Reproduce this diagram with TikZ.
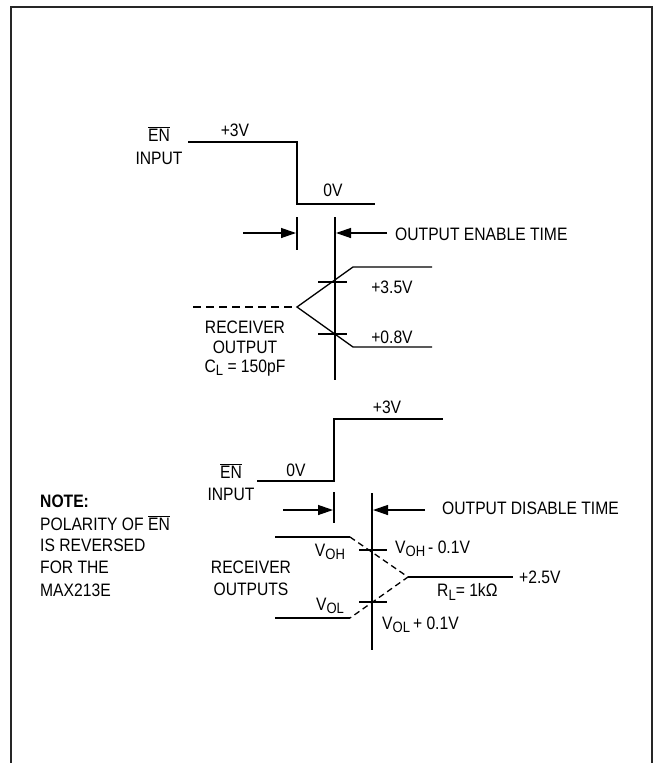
\documentclass[tikz,border=0pt]{standalone}
\usepackage{fontspec}
\setmainfont{Liberation Sans}[FakeStretch=0.87]
\usetikzlibrary{arrows.meta}
\newcommand\enbar{\ensuremath{\overline{\mbox{EN}}}}
\newcommand\lowsub[1]{\raisebox{-0.35ex}{\fontsize{15}{17}\selectfont #1}}
\begin{document}
\begin{tikzpicture}[x=1pt,y=-1pt,
  wave/.style={line width=1.3pt},
  dwave/.style={line width=1.3pt,dash pattern=on 8pt off 5pt},
  lbl/.style={inner sep=0pt,font=\fontsize{18}{21}\selectfont},
  tarrow/.style={line width=1.3pt,-{Triangle[length=15pt,width=10pt]}},
  tickline/.style={line width=1.3pt}]
\useasboundingbox (0,0) rectangle (656,763);
\draw[line width=2pt,black!85] (11,763) -- (11,7) -- (652,7) -- (652,763);

% ---- top: output enable
\node[lbl] (en1) at (159,134) {\enbar};
\node[lbl] (in1) at (159,158) {INPUT};
\node[lbl] (hi1) at (235,130) {+3V};
\node[lbl] (lo1) at (333,190) {0V};
\coordinate (a1) at (188,142);
\coordinate (a2) at (297,142);
\coordinate (a3) at (297,204);
\coordinate (a4) at (375,204);
\draw[wave] (a1) -- (a2) -- (a3) -- (a4);

\coordinate (t1a) at (297,217); \coordinate (t1b) at (297,250);
\coordinate (t2a) at (335,217); \coordinate (t2b) at (335,380);
\draw[tickline] (t1a) -- (t1b);
\draw[tickline] (t2a) -- (t2b);
\coordinate (ar1s) at (243,233); \coordinate (ar1e) at (296,233);
\coordinate (ar2s) at (387,233); \coordinate (ar2e) at (336,233);
\draw[tarrow] (ar1s) -- (ar1e);
\draw[tarrow] (ar2s) -- (ar2e);
\node[lbl,anchor=west] (oet) at (395,234) {OUTPUT ENABLE TIME};

\coordinate (apex1) at (297,307);
\coordinate (u1) at (353,267); \coordinate (u2) at (432,267);
\coordinate (l1) at (353,347); \coordinate (l2) at (432,347);
\coordinate (dstart) at (193,307);
\draw[wave] (u2) -- (u1) -- (apex1) -- (l1) -- (l2);
\draw[dwave] (dstart) -- (apex1);
\draw[tickline] (318,282) -- (347,282);
\draw[tickline] (318,334) -- (347,334);
\node[lbl] (v35) at (392,287) {+3.5V};
\node[lbl] (v08) at (392,337) {+0.8V};
\node[lbl] (ro1) at (245,327) {RECEIVER};
\node[lbl] (ro2) at (245,347) {OUTPUT};
\node[lbl] (ro3) at (245,368) {C\lowsub{L} = 150pF};

% ---- bottom: output disable
\node[lbl] (en2) at (231,471) {\enbar};
\node[lbl] (in2) at (231,494) {INPUT};
\node[lbl] (lo2) at (296,470) {0V};
\node[lbl] (hi2) at (387,407) {+3V};
\coordinate (b1) at (257,481);
\coordinate (b2) at (334,481);
\coordinate (b3) at (334,419);
\coordinate (b4) at (443,419);
\draw[wave] (b1) -- (b2) -- (b3) -- (b4);

\coordinate (t3a) at (334,492); \coordinate (t3b) at (334,523);
\coordinate (t4a) at (372,493); \coordinate (t4b) at (372,650);
\draw[tickline] (t3a) -- (t3b);
\draw[tickline] (t4a) -- (t4b);
\coordinate (ar3s) at (283,510); \coordinate (ar3e) at (333,510);
\coordinate (ar4s) at (425,510); \coordinate (ar4e) at (373,510);
\draw[tarrow] (ar3s) -- (ar3e);
\draw[tarrow] (ar4s) -- (ar4e);
\node[lbl,anchor=west] (odt) at (442,508) {OUTPUT DISABLE TIME};

\coordinate (apex2) at (408,577);
\coordinate (h1) at (275,537); \coordinate (h2) at (350,537);
\coordinate (k1) at (275,618); \coordinate (k2) at (350,618);
\coordinate (rl) at (513,577);
\draw[wave] (h1) -- (h2);
\draw[wave] (k1) -- (k2);
\draw[line width=1.3pt,dash pattern=on 6pt off 4pt] (h2) -- (apex2) -- (k2);
\draw[wave] (apex2) -- (rl);
\draw[tickline] (359,550) -- (387,550);
\draw[tickline] (359,602) -- (387,602);
\node[lbl] (voh) at (330,552) {V\lowsub{OH}};
\node[lbl] (vol) at (330,606) {V\lowsub{OL}};
\node[lbl,anchor=west] (vohm) at (395,549) {V\lowsub{OH}\,- 0.1V};
\node[lbl,anchor=west] (volp) at (382,625) {V\lowsub{OL}\,+ 0.1V};
\node[lbl,anchor=west] (rlab) at (437,592) {R\lowsub{L}= 1kΩ};
\node[lbl,anchor=west] (v25) at (519,577) {+2.5V};
\node[lbl] (ros1) at (251,567) {RECEIVER};
\node[lbl] (ros2) at (251,589) {OUTPUTS};

% ---- note
\node[lbl,anchor=west,font=\fontsize{18}{21}\selectfont\bfseries] (note) at (40,501) {NOTE:};
\node[lbl,anchor=west] (n1) at (40,523) {POLARITY OF \enbar};
\node[lbl,anchor=west] (n2) at (40,545) {IS REVERSED};
\node[lbl,anchor=west] (n3) at (40,567) {FOR THE};
\node[lbl,anchor=west] (n4) at (40,590) {MAX213E};
\end{tikzpicture}
\end{document}
